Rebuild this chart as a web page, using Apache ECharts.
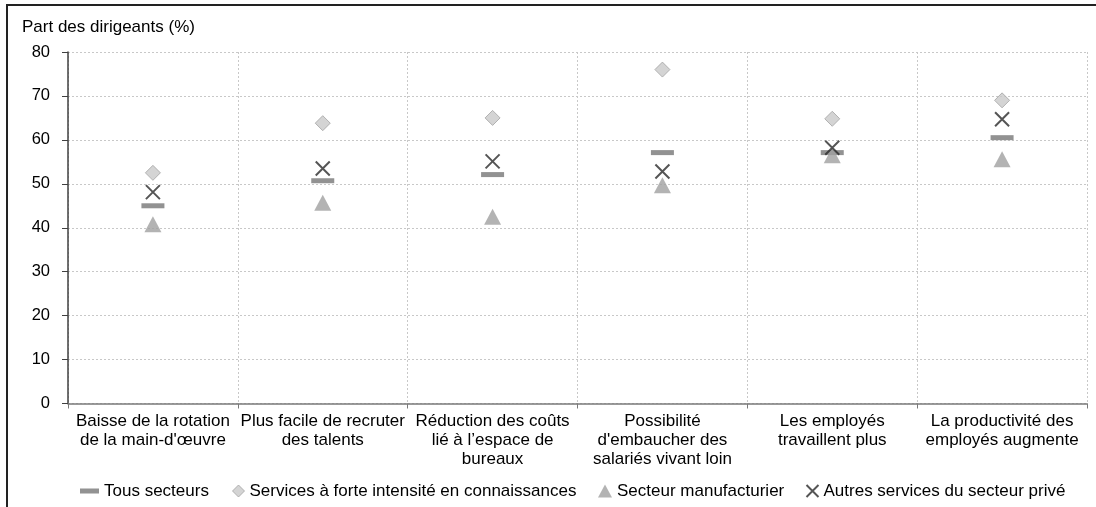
<!DOCTYPE html>
<html>
<head>
<meta charset="utf-8">
<script src="https://cdn.jsdelivr.net/npm/echarts@6/dist/echarts.min.js"></script>
<style>
  html, body { margin: 0; padding: 0; background: #fff; }
  #chart { position: absolute; left: 0; top: 0; width: 1096px; height: 507px; }
  #frame { position: absolute; left: 6px; top: 4px; right: -10px; bottom: -10px;
           border-left: 2px solid #222; border-top: 2px solid #222; pointer-events: none; }
</style>
</head>
<body>
<div id="chart"></div>
<div id="frame"></div>
<script>
// Categories (x axis) with their line breaks
const categories = [
  "Baisse de la rotation\nde la main-d'œuvre",
  "Plus facile de recruter\ndes talents",
  "Réduction des coûts\nlié à l’espace de\nbureaux",
  "Possibilité\nd'embaucher des\nsalariés vivant loin",
  "Les employés\ntravaillent plus",
  "La productivité des\nemployés augmente"
];

// Share of managers (%) per group
const tousSecteurs = [45.0, 50.7, 52.1, 57.1, 57.1, 60.5];
const servicesConnaissances = [52.5, 63.8, 65.0, 76.0, 64.8, 69.0];
const secteurManufacturier = [40.8, 45.7, 42.5, 49.7, 56.5, 55.6];
const autresServices = [48.1, 53.5, 55.1, 52.8, 58.2, 64.7];

// Series names
const seriesNames = [
  "Tous secteurs",
  "Services à forte intensité en connaissances",
  "Secteur manufacturier",
  "Autres services du secteur privé"
];

// Y axis scale
const yMin = 0;
const yMax = 80;
const yStep = 10;
const yTitle = "Part des dirigeants (%)";

const FONT = '"Liberation Sans", Arial, Helvetica, sans-serif';
const CROSS = 'path://M0,0L10,10M10,0L0,10';
const DASH = 'path://M0,0H19V5H0Z';

const dotted = { color: '#c8c8c8', width: 1, type: [2, 2] };

function legendAt(left, name, icon, w, h, style) {
  return {
    left: left, top: 481, padding: 0, orient: 'horizontal',
    selectedMode: false, itemWidth: w, itemHeight: h,
    textStyle: { fontFamily: FONT, fontSize: 17, lineHeight: 20, color: '#000' },
    data: [{ name: name, icon: icon, itemStyle: style }]
  };
}

const crossStyle = { color: 'none', borderColor: '#2b2b2b', borderWidth: 2 };
const diamondStyle = { color: '#c9c9c9', borderColor: '#a3a3a3', borderWidth: 1 };
const triStyle = { color: '#a0a0a0', borderWidth: 0 };
const dashStyle = { color: '#777777', borderWidth: 0 };

const chart = echarts.init(document.getElementById('chart'), null, { renderer: 'canvas' });
chart.setOption({
  animation: false,
  backgroundColor: 'transparent',
  textStyle: { fontFamily: FONT },
  title: {
    text: yTitle, left: 22, top: 17, padding: 0,
    textStyle: { fontFamily: FONT, fontSize: 17, fontWeight: 'normal', color: '#000', lineHeight: 20 }
  },
  grid: { left: 68, right: 9, top: 52, bottom: 103.5, containLabel: false, outerBoundsMode: 'none' },
  legend: [
    legendAt(80, seriesNames[0], DASH, 19, 5, dashStyle),
    legendAt(232, seriesNames[1], 'diamond', 12, 12, diamondStyle),
    legendAt(598, seriesNames[2], 'triangle', 14, 13, triStyle),
    legendAt(804, seriesNames[3], CROSS, 12, 12, crossStyle)
  ],
  xAxis: {
    type: 'category',
    data: categories,
    boundaryGap: true,
    axisLine: { show: true, lineStyle: { color: '#7a7a7a', width: 1.5 } },
    axisTick: { show: true, length: 5, alignWithLabel: false, lineStyle: { color: '#7a7a7a', width: 1 } },
    axisLabel: { interval: 0, fontFamily: FONT, fontSize: 17, lineHeight: 19, margin: 8, color: '#000' },
    splitLine: { show: true, interval: 0, lineStyle: dotted }
  },
  yAxis: {
    type: 'value',
    min: yMin, max: yMax, interval: yStep,
    axisLine: { show: true, lineStyle: { color: '#404040', width: 1.5 } },
    axisTick: { show: true, length: 6, inside: false, lineStyle: { color: '#404040', width: 1 } },
    axisLabel: { fontFamily: FONT, fontSize: 16.5, margin: 18, color: '#000' },
    splitLine: { show: true, lineStyle: dotted }
  },
  series: [
    { name: seriesNames[0], type: 'scatter', data: tousSecteurs, symbol: 'rect',
      symbolSize: [23, 5], itemStyle: dashStyle, silent: true, z: 2 },
    { name: seriesNames[1], type: 'scatter', data: servicesConnaissances, symbol: 'diamond',
      symbolSize: 15, itemStyle: diamondStyle, silent: true, z: 3 },
    { name: seriesNames[2], type: 'scatter', data: secteurManufacturier, symbol: 'triangle',
      symbolSize: [17, 16], itemStyle: triStyle, silent: true, z: 4 },
    { name: seriesNames[3], type: 'scatter', data: autresServices, symbol: CROSS,
      symbolSize: 14, itemStyle: crossStyle, silent: true, z: 5 }
  ]
});
</script>
</body>
</html>
